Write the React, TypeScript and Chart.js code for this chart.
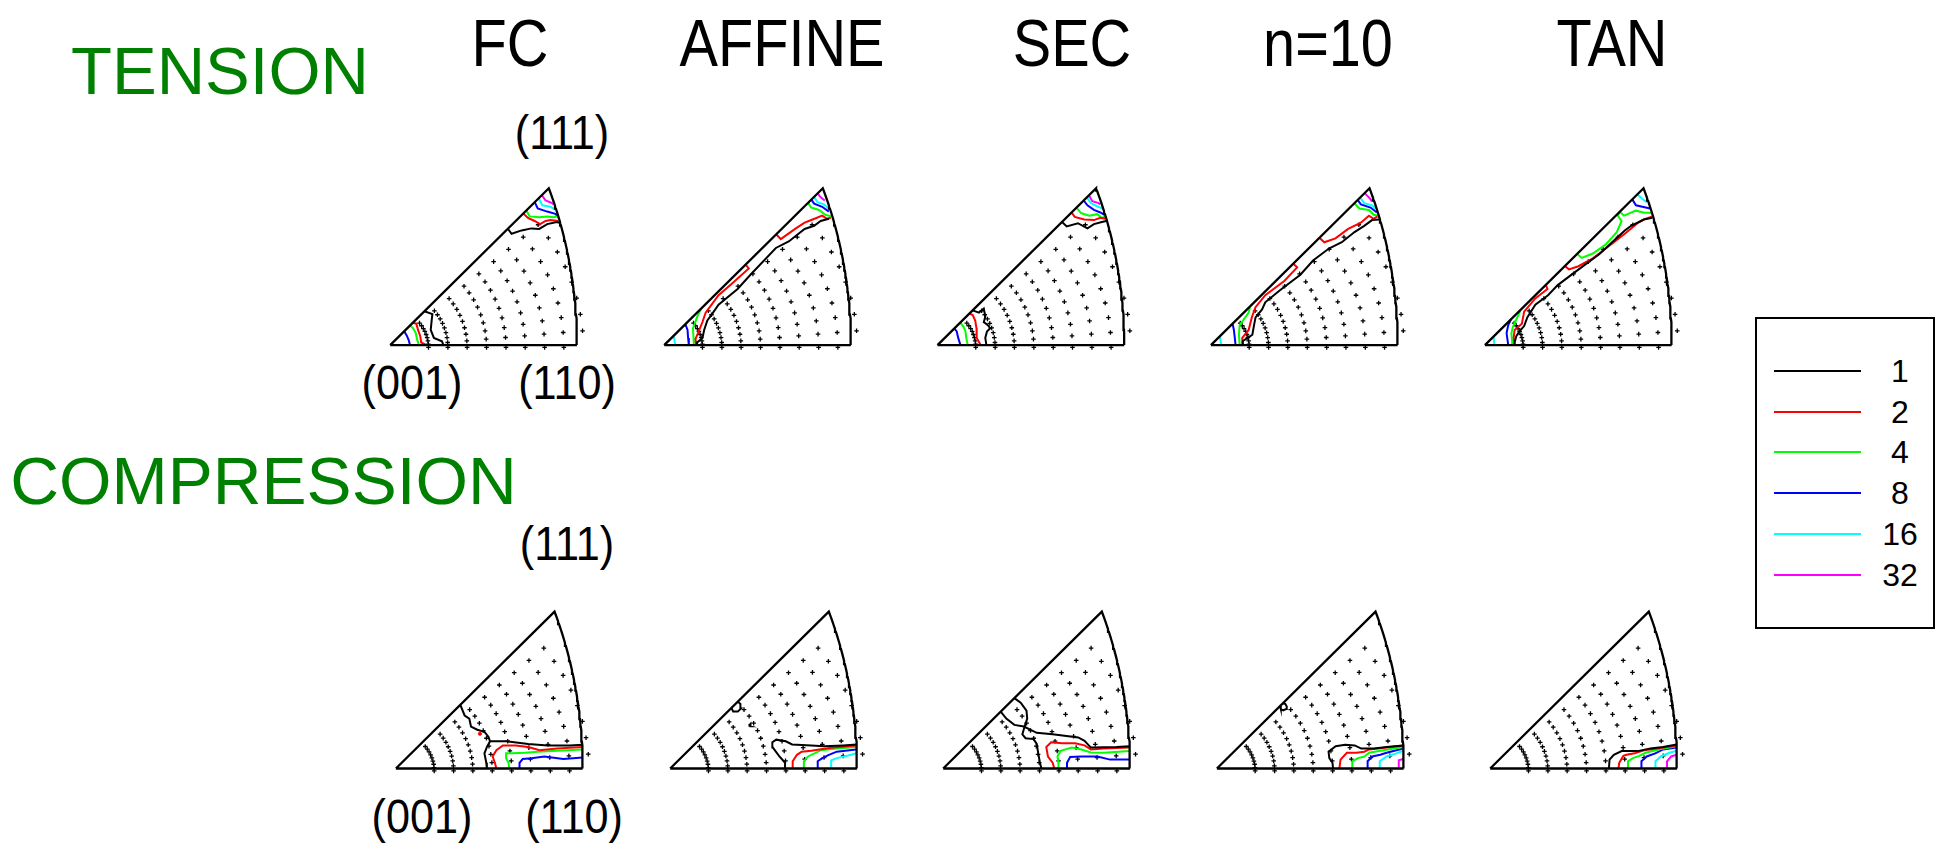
import React, { useEffect, useRef } from 'react';
import { Chart, registerables } from 'chart.js';
Chart.register(...registerables);

// ---------------- data ----------------
const LEVELS = ['1', '2', '4', '8', '16', '32'];
const LEVEL_COLORS = ['#000000', '#ff0000', '#00ff00', '#0000ff', '#00ffff', '#ff00ff'];
const COLUMN_TITLES = ['FC', 'AFFINE', 'SEC', 'n=10', 'TAN'];
const ROW_TITLES = ['TENSION', 'COMPRESSION'];
const POLE_LABELS = ['(111)', '(001)', '(110)'];

// sample grid of the pole figure (ring radius in triangle-width units, azimuth in degrees)
const GRID_RING_RADII = [0.205, 0.309, 0.412, 0.516, 0.62, 0.723, 0.827, 0.93, 1.034];
const GRID_AZIMUTHS_DEG = [0, 5, 10, 15, 20, 25, 30, 35, 40];

type Line = number[][];
// ---- TENSION ----
const tFC_1: Line[] = [
  [[0.183, 0.183], [0.226, 0.168], [0.222, 0.133], [0.217, 0.082], [0.234, 0.039], [0.277, 0.021], [0.285, 0]],
  [[0.63, 0.63], [0.65, 0.603], [0.704, 0.621], [0.756, 0.632], [0.798, 0.629], [0.841, 0.655], [0.892, 0.667], [0.906, 0.663]],
];
const tFC_2: Line[] = [
  [[0.121, 0.121], [0.14, 0.116], [0.149, 0.082], [0.161, 0.048], [0.166, 0.014], [0.195, 0]],
  [[0.713, 0.713], [0.738, 0.689], [0.773, 0.672], [0.803, 0.655], [0.832, 0.672], [0.858, 0.677], [0.9, 0.672]],
];
const tFC_4: Line[] = [
  [[0.106, 0.106], [0.123, 0.091], [0.137, 0.065], [0.144, 0.031], [0.154, 0]],
  [[0.729, 0.729], [0.747, 0.697], [0.798, 0.692], [0.841, 0.697], [0.875, 0.692], [0.899, 0.697]],
];
const tFC_8: Line[] = [
  [[0.075, 0.075], [0.089, 0.051], [0.099, 0.027], [0.106, 0]],
  [[0.774, 0.774], [0.79, 0.74], [0.841, 0.723], [0.884, 0.711], [0.895, 0.7]],
];
const tFC_16: Line[] = [[[0.795, 0.795], [0.815, 0.757], [0.858, 0.749], [0.887, 0.732]]];
const tFC_32: Line[] = [[[0.812, 0.812], [0.832, 0.783], [0.867, 0.769], [0.875, 0.762]]];

const tAF_1: Line[] = [
  [[0.18, 0], [0.176, 0.014], [0.205, 0.039], [0.214, 0.082], [0.231, 0.133], [0.256, 0.168], [0.291, 0.219], [0.393, 0.304], [0.462, 0.381], [0.598, 0.526], [0.667, 0.561], [0.752, 0.629], [0.803, 0.646], [0.838, 0.672], [0.882, 0.684]],
];
const tAF_2: Line[] = [
  [[0.171, 0], [0.168, 0.034], [0.188, 0.082], [0.205, 0.125], [0.222, 0.176], [0.291, 0.27], [0.359, 0.33], [0.453, 0.415], [0.436, 0.436]],
  [[0.6, 0.6], [0.624, 0.574], [0.701, 0.629], [0.752, 0.663], [0.795, 0.68], [0.846, 0.701], [0.872, 0.684], [0.892, 0.69]],
];
const tAF_4: Line[] = [
  [[0.197, 0.197], [0.179, 0.159], [0.154, 0.091], [0.157, 0.039], [0.159, 0]],
  [[0.771, 0.771], [0.786, 0.745], [0.829, 0.732], [0.863, 0.706], [0.895, 0.697]],
];
const tAF_8: Line[] = [
  [[0.113, 0.113], [0.125, 0.082], [0.128, 0.039], [0.132, 0]],
  [[0.788, 0.788], [0.803, 0.766], [0.846, 0.749], [0.882, 0.723]],
];
const tAF_16: Line[] = [
  [[0.05, 0.05], [0.06, 0]],
  [[0.802, 0.802], [0.821, 0.774], [0.855, 0.762], [0.882, 0.74]],
];
const tAF_32: Line[] = [[[0.821, 0.821], [0.838, 0.8], [0.86, 0.783]]];

const tSC_1: Line[] = [
  [[0.188, 0.188], [0.222, 0.176], [0.248, 0.198], [0.256, 0.154], [0.248, 0.125], [0.27, 0.108], [0.282, 0.091], [0.265, 0.074], [0.256, 0.039], [0.262, 0]],
  [[0.667, 0.667], [0.692, 0.643], [0.752, 0.66], [0.803, 0.632], [0.838, 0.655], [0.88, 0.667], [0.904, 0.672]],
];
const tSC_2: Line[] = [
  [[0.17, 0.17], [0.188, 0.164], [0.202, 0.133], [0.209, 0.091], [0.21, 0.039], [0.231, 0]],
  [[0.718, 0.718], [0.735, 0.694], [0.786, 0.68], [0.838, 0.677], [0.872, 0.689], [0.898, 0.684]],
];
const tSC_4: Line[] = [
  [[0.122, 0.122], [0.14, 0.099], [0.15, 0.074], [0.154, 0.039], [0.162, 0]],
  [[0.744, 0.744], [0.769, 0.715], [0.812, 0.701], [0.855, 0.709], [0.88, 0.689], [0.899, 0.697]],
];
const tSC_8: Line[] = [
  [[0.09, 0.09], [0.103, 0.074], [0.111, 0.039], [0.123, 0]],
  [[0.783, 0.783], [0.803, 0.757], [0.838, 0.732], [0.872, 0.718], [0.892, 0.706]],
];
const tSC_16: Line[] = [[[0.8, 0.8], [0.821, 0.769], [0.855, 0.752], [0.882, 0.74]]];
const tSC_32: Line[] = [[[0.811, 0.811], [0.829, 0.779], [0.863, 0.769], [0.872, 0.762]]];

const tN10_1: Line[] = [
  [[0.168, 0], [0.171, 0.022], [0.197, 0.039], [0.222, 0.056], [0.231, 0.108], [0.239, 0.15], [0.274, 0.193], [0.291, 0.232], [0.368, 0.296], [0.479, 0.381], [0.547, 0.458], [0.632, 0.523], [0.701, 0.557], [0.769, 0.612], [0.821, 0.646], [0.863, 0.677], [0.903, 0.68]],
];
const tN10_2: Line[] = [
  [[0.171, 0], [0.168, 0.039], [0.202, 0.082], [0.219, 0.15], [0.239, 0.205], [0.291, 0.27], [0.393, 0.347], [0.462, 0.421], [0.441, 0.441]],
  [[0.581, 0.581], [0.607, 0.557], [0.667, 0.578], [0.735, 0.629], [0.803, 0.663], [0.846, 0.701], [0.872, 0.684], [0.892, 0.697]],
];
const tN10_4: Line[] = [
  [[0.21, 0.21], [0.202, 0.176], [0.154, 0.108], [0.15, 0.056], [0.154, 0]],
  [[0.768, 0.768], [0.795, 0.74], [0.846, 0.732], [0.872, 0.706], [0.899, 0.701]],
];
const tN10_8: Line[] = [
  [[0.116, 0.116], [0.123, 0.082], [0.128, 0.039], [0.132, 0]],
  [[0.786, 0.786], [0.803, 0.762], [0.855, 0.745], [0.889, 0.718]],
];
const tN10_16: Line[] = [
  [[0.048, 0.048], [0.055, 0]],
  [[0.799, 0.799], [0.821, 0.769], [0.863, 0.757], [0.882, 0.74]],
];
const tN10_32: Line[] = [[[0.823, 0.823], [0.846, 0.8], [0.863, 0.779]]];

const tTAN_1: Line[] = [
  [[0.159, 0], [0.159, 0.014], [0.168, 0.048], [0.185, 0.074], [0.21, 0.103], [0.227, 0.15], [0.27, 0.219], [0.338, 0.27], [0.39, 0.325], [0.475, 0.39], [0.612, 0.492], [0.749, 0.621], [0.783, 0.646], [0.851, 0.68], [0.896, 0.689]],
];
const tTAN_2: Line[] = [
  [[0.159, 0], [0.154, 0.039], [0.159, 0.082], [0.198, 0.116], [0.21, 0.181], [0.27, 0.253], [0.335, 0.304], [0.326, 0.326]],
  [[0.428, 0.428], [0.45, 0.41], [0.501, 0.427], [0.578, 0.47], [0.663, 0.535], [0.749, 0.603], [0.817, 0.66], [0.851, 0.68], [0.897, 0.697]],
];
const tTAN_4: Line[] = [
  [[0.19, 0.19], [0.185, 0.176], [0.15, 0.099], [0.142, 0.065], [0.147, 0]],
  [[0.494, 0.494], [0.518, 0.472], [0.578, 0.496], [0.646, 0.544], [0.706, 0.612], [0.732, 0.672], [0.712, 0.7], [0.722, 0.722]],
  [[0.722, 0.722], [0.745, 0.701], [0.808, 0.728], [0.85, 0.718], [0.894, 0.715]],
];
const tTAN_8: Line[] = [
  [[0.14, 0.14], [0.125, 0.108], [0.116, 0.065], [0.125, 0]],
  [[0.789, 0.789], [0.809, 0.757], [0.843, 0.749], [0.885, 0.74]],
];
const tTAN_16: Line[] = [
  [[0.046, 0.046], [0.051, 0]],
  [[0.817, 0.817], [0.843, 0.791], [0.866, 0.774]],
];
const tTAN_32: Line[] = [];

// ---- COMPRESSION ----
const cFC_1: Line[] = [
  [[0.345, 0.345], [0.368, 0.287], [0.393, 0.27], [0.402, 0.227], [0.436, 0.21], [0.474, 0.198], [0.496, 0.171], [0.504, 0.147], [0.487, 0.116], [0.474, 0.082], [0.484, 0.031], [0.487, 0]],
  [[0.504, 0.147], [0.59, 0.147], [0.709, 0.133], [0.812, 0.125], [0.932, 0.125], [1.0, 0.128]],
];
const cFC_2: Line[] = [
  [[0.538, 0], [0.53, 0.031], [0.518, 0.065], [0.538, 0.099], [0.573, 0.125], [0.641, 0.125], [0.709, 0.116], [0.769, 0.099], [0.863, 0.108], [1.0, 0.116]],
];
const cFC_4: Line[] = [
  [[0.607, 0], [0.603, 0.031], [0.59, 0.056], [0.59, 0.082], [0.624, 0.082], [0.692, 0.085], [0.761, 0.091], [0.863, 0.096], [1.0, 0.103]],
];
const cFC_8: Line[] = [
  [[0.662, 0], [0.662, 0.031], [0.679, 0.051], [0.726, 0.056], [0.795, 0.065], [0.897, 0.051], [1.0, 0.06]],
];
const cFC_DOTS = [[0.45, 0.188, 1]];

const cAF_1: Line[] = [
  [[0.619, 0], [0.615, 0.031], [0.585, 0.065], [0.55, 0.113], [0.547, 0.142], [0.568, 0.156], [0.619, 0.147], [0.653, 0.13], [0.756, 0.125], [0.824, 0.12], [0.926, 0.125], [0.998, 0.13]],
  [[0.328, 0.328], [0.337, 0.309], [0.362, 0.308], [0.379, 0.325], [0.376, 0.349], [0.362, 0.362]],
  [[0.42, 0.232], [0.432, 0.228], [0.43, 0.242], [0.42, 0.232]],
];
const cAF_2: Line[] = [
  [[0.656, 0], [0.656, 0.039], [0.679, 0.074], [0.704, 0.091], [0.756, 0.096], [0.798, 0.103], [0.875, 0.113], [0.995, 0.125]],
];
const cAF_4: Line[] = [
  [[0.716, 0], [0.716, 0.039], [0.738, 0.065], [0.773, 0.082], [0.807, 0.099], [0.892, 0.108], [0.995, 0.116]],
];
const cAF_8: Line[] = [
  [[0.79, 0], [0.79, 0.039], [0.815, 0.056], [0.85, 0.074], [0.892, 0.091], [0.995, 0.103]],
];
const cAF_16: Line[] = [
  [[0.862, 0], [0.862, 0.044], [0.892, 0.056], [0.944, 0.068], [0.997, 0.082]],
];

const cSC_1: Line[] = [
  [[0.381, 0.381], [0.415, 0.356], [0.446, 0.313], [0.45, 0.27], [0.436, 0.227], [0.424, 0.185], [0.441, 0.164], [0.484, 0.159], [0.501, 0.133], [0.509, 0.082], [0.518, 0.031], [0.526, 0]],
  [[0.308, 0.308], [0.338, 0.27], [0.381, 0.236], [0.432, 0.227], [0.501, 0.193], [0.586, 0.185], [0.723, 0.168], [0.757, 0.15], [0.791, 0.113], [0.928, 0.116], [0.998, 0.121]],
];
const cSC_2: Line[] = [
  [[0.595, 0], [0.586, 0.031], [0.561, 0.065], [0.552, 0.116], [0.578, 0.142], [0.638, 0.137], [0.706, 0.137], [0.757, 0.125], [0.791, 0.103], [0.86, 0.108], [0.998, 0.113]],
];
const cSC_4: Line[] = [
  [[0.617, 0], [0.617, 0.031], [0.612, 0.065], [0.629, 0.096], [0.689, 0.113], [0.74, 0.103], [0.791, 0.087], [0.86, 0.085], [0.998, 0.094]],
];
const cSC_8: Line[] = [
  [[0.663, 0], [0.663, 0.031], [0.68, 0.062], [0.74, 0.065], [0.826, 0.065], [0.894, 0.048], [0.998, 0.048]],
];

const cN10_1: Line[] = [
  [[0.622, 0], [0.619, 0.031], [0.602, 0.056], [0.598, 0.091], [0.636, 0.12], [0.687, 0.128], [0.738, 0.125], [0.773, 0.108], [0.841, 0.108], [0.909, 0.116], [0.998, 0.125]],
  [[0.338, 0.338], [0.342, 0.322], [0.355, 0.315], [0.37, 0.322], [0.374, 0.336], [0.366, 0.35], [0.352, 0.352]],
];
const cN10_2: Line[] = [
  [[0.656, 0], [0.662, 0.048], [0.696, 0.085], [0.747, 0.085], [0.79, 0.091], [0.815, 0.103], [0.909, 0.113], [0.998, 0.125]],
];
const cN10_4: Line[] = [
  [[0.725, 0], [0.725, 0.039], [0.756, 0.056], [0.79, 0.065], [0.815, 0.085], [0.875, 0.096], [0.998, 0.116]],
];
const cN10_8: Line[] = [
  [[0.807, 0], [0.807, 0.039], [0.832, 0.065], [0.875, 0.074], [0.909, 0.085], [0.998, 0.108]],
];
const cN10_16: Line[] = [
  [[0.872, 0], [0.872, 0.039], [0.909, 0.065], [0.961, 0.082], [0.998, 0.096]],
];
const cN10_32: Line[] = [[[0.974, 0], [0.974, 0.044], [0.998, 0.051]]];

const cTAN_1: Line[] = [
  [[0.636, 0], [0.639, 0.048], [0.662, 0.074], [0.704, 0.094], [0.79, 0.094], [0.858, 0.108], [0.926, 0.116], [0.998, 0.13]],
];
const cTAN_2: Line[] = [
  [[0.687, 0], [0.691, 0.031], [0.713, 0.068], [0.73, 0.074], [0.773, 0.082], [0.824, 0.099], [0.892, 0.108], [0.998, 0.125]],
];
const cTAN_4: Line[] = [
  [[0.738, 0], [0.738, 0.039], [0.764, 0.056], [0.798, 0.068], [0.832, 0.085], [0.901, 0.103], [0.998, 0.12]],
];
const cTAN_8: Line[] = [
  [[0.81, 0], [0.81, 0.039], [0.838, 0.065], [0.884, 0.082], [0.926, 0.103], [0.998, 0.113]],
];
const cTAN_16: Line[] = [
  [[0.884, 0], [0.885, 0.039], [0.913, 0.065], [0.961, 0.085], [0.998, 0.096]],
];
const cTAN_32: Line[] = [[[0.947, 0], [0.947, 0.039], [0.969, 0.065], [0.998, 0.074]]];

const TENSION_CONTOURS = [
  [tFC_1, tFC_2, tFC_4, tFC_8, tFC_16, tFC_32],
  [tAF_1, tAF_2, tAF_4, tAF_8, tAF_16, tAF_32],
  [tSC_1, tSC_2, tSC_4, tSC_8, tSC_16, tSC_32],
  [tN10_1, tN10_2, tN10_4, tN10_8, tN10_16, tN10_32],
  [tTAN_1, tTAN_2, tTAN_4, tTAN_8, tTAN_16, tTAN_32],
];
const COMPRESSION_CONTOURS = [
  [cFC_1, cFC_2, cFC_4, cFC_8, [], []],
  [cAF_1, cAF_2, cAF_4, cAF_8, cAF_16, []],
  [cSC_1, cSC_2, cSC_4, cSC_8, [], []],
  [cN10_1, cN10_2, cN10_4, cN10_8, cN10_16, cN10_32],
  [cTAN_1, cTAN_2, cTAN_4, cTAN_8, cTAN_16, cTAN_32],
];
const COMPRESSION_DOTS = [cFC_DOTS, [], [], [], []];

// ---------------- layout ----------------
const UNIT = 195; // px per triangle width
const TENSION_VX = [386, 660, 933.3, 1206.7, 1480.7];
const TENSION_VY = 349.3;
const COMPRESSION_VX = [391.7, 666, 939, 1212.7, 1486];
const COMPRESSION_VY = 772.7;
const TITLE_CX = [510, 782, 1072, 1328, 1612];
const CROSS_DY = 2.5 / UNIT;
const FONT = '"Liberation Sans", Arial, Helvetica, sans-serif';

function boundaryPoints() {
  const R0 = Math.sqrt(2 * (1 - Math.SQRT1_2));
  const pts = [{ x: 0, y: 0 }, { x: 1, y: 0 }];
  for (let i = 1; i <= 48; i++) {
    const t = i / 48;
    const c = 1 / Math.sqrt(2 + t * t);
    const r = Math.sqrt(2 * (1 - c));
    const phi = Math.atan(t);
    pts.push({ x: (r * Math.cos(phi)) / R0, y: (r * Math.sin(phi)) / R0 });
  }
  pts.push({ x: 0, y: 0 });
  return pts;
}

function insideLimit(x: number, y: number) {
  const phi = Math.atan2(y, x);
  const theta = Math.atan(1 / Math.cos(phi));
  const R0 = Math.sqrt(2 * (1 - Math.SQRT1_2));
  return (2 * Math.sin(theta / 2)) / R0;
}

function gridPoints() {
  const pts: { x: number; y: number }[] = [];
  GRID_RING_RADII.forEach((r) => {
    GRID_AZIMUTHS_DEG.forEach((a) => {
      const p = (a * Math.PI) / 180;
      const x = r * Math.cos(p);
      const y = r * Math.sin(p);
      if (r > insideLimit(x, y) && a === 0) return;
      if (r > insideLimit(x, y) + 0.06) return;
      pts.push({ x, y: y - CROSS_DY });
    });
  });
  return pts;
}

const CW = 250;
const CH = 200;

function Panel({ vx, vy, contours, dots }: { vx: number; vy: number; contours: Line[][]; dots: number[][] }) {
  const ref = useRef<HTMLCanvasElement>(null);
  const left = Math.round(vx - 26);
  const top = Math.round(vy - 0.92 * UNIT);
  useEffect(() => {
    const xmin = (left - vx) / UNIT;
    const xmax = xmin + CW / UNIT;
    const ymax = (vy - top) / UNIT;
    const ymin = ymax - CH / UNIT;
    const datasets: any[] = [];
    datasets.push({
      data: boundaryPoints(),
      showLine: true,
      borderColor: '#000',
      borderWidth: 2.3,
      pointRadius: 0,
      borderJoinStyle: 'miter',
      order: 0,
    });
    contours.forEach((lines, li) => {
      lines.forEach((line) => {
        datasets.push({
          data: line.map((p) => ({ x: p[0], y: p[1] })),
          showLine: true,
          borderColor: LEVEL_COLORS[li],
          borderWidth: 2,
          pointRadius: 0,
          order: 1,
        });
      });
    });
    dots.forEach((d) => {
      datasets.push({
        data: [{ x: d[0], y: d[1] }],
        showLine: false,
        pointRadius: 1.6,
        pointBackgroundColor: LEVEL_COLORS[d[2]],
        pointBorderColor: LEVEL_COLORS[d[2]],
        order: 1,
      });
    });
    datasets.push({
      data: gridPoints(),
      showLine: false,
      pointStyle: 'cross',
      pointRadius: 2.3,
      pointBorderWidth: 1.3,
      pointBorderColor: '#000',
      borderColor: '#000',
      order: 2,
    });
    const chart = new Chart(ref.current as HTMLCanvasElement, {
      type: 'scatter',
      data: { datasets },
      options: {
        animation: false,
        responsive: false,
        maintainAspectRatio: false,
        events: [],
        layout: { padding: 0 },
        plugins: { legend: { display: false }, tooltip: { enabled: false } },
        scales: {
          x: { type: 'linear', display: false, min: xmin, max: xmax },
          y: { type: 'linear', display: false, min: ymin, max: ymax },
        },
      } as any,
    });
    return () => chart.destroy();
  }, []);
  return (
    <canvas
      ref={ref}
      width={CW}
      height={CH}
      style={{ position: 'absolute', left, top, width: CW, height: CH }}
    />
  );
}

function Label({ text, cx, baseline, size, color = '#000', sx = 1 }: { text: string; cx: number; baseline: number; size: number; color?: string; sx?: number }) {
  return (
    <div
      style={{
        position: 'absolute',
        left: cx,
        top: baseline - 0.8465 * size,
        fontFamily: FONT,
        fontSize: size,
        lineHeight: `${size}px`,
        color,
        whiteSpace: 'nowrap',
        transform: `translateX(-50%) scaleX(${sx})`,
        transformOrigin: '50% 0',
      }}
    >
      {text}
    </div>
  );
}

function Legend() {
  const rows = [371, 412, 452, 493, 534, 575];
  return (
    <div>
      <div
        style={{
          position: 'absolute',
          left: 1755,
          top: 317,
          width: 180,
          height: 312,
          border: '2.5px solid #000',
          boxSizing: 'border-box',
        }}
      />
      {LEVELS.map((lv, i) => (
        <React.Fragment key={lv}>
          <div style={{ position: 'absolute', left: 1774, top: rows[i] - 1, width: 87, height: 2, background: LEVEL_COLORS[i] }} />
          <Label text={lv} cx={1900} baseline={rows[i] + 11} size={32} />
        </React.Fragment>
      ))}
    </div>
  );
}

export default function App() {
  return (
    <div style={{ position: 'absolute', left: 0, top: 0, width: 1944, height: 851, background: '#fff', overflow: 'hidden' }}>
      <Label text={ROW_TITLES[0]} cx={220} baseline={94} size={67} color="#008000" />
      <Label text={ROW_TITLES[1]} cx={263.5} baseline={504} size={67.5} color="#008000" />
      {COLUMN_TITLES.map((t, i) => (
        <Label key={t} text={t} cx={TITLE_CX[i]} baseline={66} size={67} sx={0.86} />
      ))}
      <Label text={POLE_LABELS[0]} cx={561.5} baseline={150} size={48} sx={0.9} />
      <Label text={POLE_LABELS[1]} cx={411.5} baseline={400} size={48} sx={0.9} />
      <Label text={POLE_LABELS[2]} cx={566.5} baseline={400} size={48} sx={0.9} />
      <Label text={POLE_LABELS[0]} cx={567} baseline={561} size={48} sx={0.9} />
      <Label text={POLE_LABELS[1]} cx={421.5} baseline={834} size={48} sx={0.9} />
      <Label text={POLE_LABELS[2]} cx={574} baseline={834} size={48} sx={0.9} />
      {TENSION_CONTOURS.map((c, i) => (
        <Panel key={'t' + i} vx={TENSION_VX[i]} vy={TENSION_VY} contours={c} dots={[]} />
      ))}
      {COMPRESSION_CONTOURS.map((c, i) => (
        <Panel key={'c' + i} vx={COMPRESSION_VX[i]} vy={COMPRESSION_VY} contours={c} dots={COMPRESSION_DOTS[i]} />
      ))}
      <Legend />
    </div>
  );
}
